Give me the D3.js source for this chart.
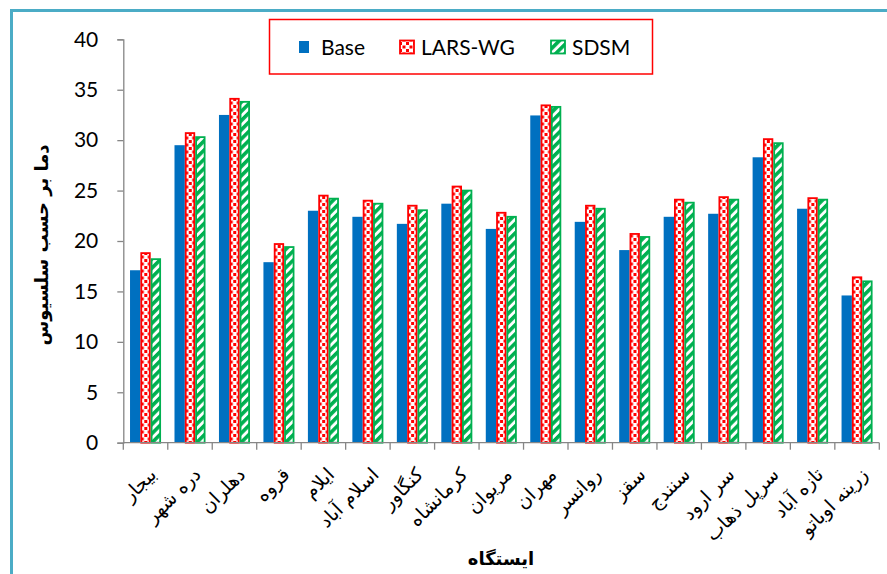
<!DOCTYPE html>
<html>
<head>
<meta charset="utf-8">
<script src="https://cdn.jsdelivr.net/npm/d3@7"></script>
<style>
  html, body { margin: 0; padding: 0; background: #ffffff; }
  svg { display: block; }
</style>
</head>
<body>
<svg id="chart" width="887" height="574"></svg>
<script>
// Stations (x categories)
const stations = ["بیجار", "دره شهر", "دهلران", "قروه", "ایلام", "اسلام آباد", "کنگاور", "کرمانشاه",
  "مریوان", "مهران", "روانسر", "سقز", "سنندج", "سر ارود", "سرپل ذهاب", "تازه آباد", "زرینه اوباتو"];

// Series names
const seriesNames = ["Base", "LARS-WG", "SDSM"];

// Temperature (°C) per station for each series
const baseValues  = [17.1, 29.5, 32.5, 17.9, 23.0, 22.4, 21.7, 23.7, 21.2, 32.45, 21.9, 19.1, 22.4, 22.7, 28.3, 23.2, 14.6];
const larsValues  = [18.8, 30.7, 34.1, 19.7, 24.5, 24.0, 23.5, 25.4, 22.8, 33.45, 23.5, 20.7, 24.1, 24.35, 30.1, 24.25, 16.4];
const sdsmValues  = [18.2, 30.3, 33.8, 19.4, 24.2, 23.7, 23.05, 25.0, 22.4, 33.3, 23.2, 20.4, 23.8, 24.1, 29.7, 24.1, 16.0];

// Y axis ticks
const yTicks = [0, 5, 10, 15, 20, 25, 30, 35, 40];

const yTitle = "دما بر حسب سلسیوس";
const xTitle = "ایستگاه";

const seriesValues = [baseValues, larsValues, sdsmValues];
const rows = stations.map((s, i) => ({ station: s, values: seriesNames.map((n, k) => ({ series: n, value: seriesValues[k][i] })) }));

const svg = d3.select("#chart");
const latin = "Lato, 'Open Sans', sans-serif";
const persian = "'DejaVu Sans', sans-serif";

// Patterns for the two model series
const defs = svg.append("defs");
const dots = defs.append("pattern").attr("id", "redDots")
  .attr("patternUnits", "userSpaceOnUse").attr("width", 7).attr("height", 7);
dots.append("rect").attr("width", 7).attr("height", 7).attr("fill", "#ffffff");
dots.append("rect").attr("x", 0).attr("y", 0).attr("width", 3).attr("height", 3).attr("fill", "#ff0000");
dots.append("rect").attr("x", 3.5).attr("y", 3.5).attr("width", 3).attr("height", 3).attr("fill", "#ff0000");

const stripes = defs.append("pattern").attr("id", "greenStripes")
  .attr("patternUnits", "userSpaceOnUse").attr("width", 6.5).attr("height", 6.5)
  .attr("patternTransform", "rotate(45)");
stripes.append("rect").attr("width", 6.5).attr("height", 6.5).attr("fill", "#ffffff");
stripes.append("rect").attr("x", 0).attr("y", 0).attr("width", 3.6).attr("height", 6.5).attr("fill", "#00b050");

const style = {
  "Base":    { fill: "#0070c0", stroke: "none", sw: 0 },
  "LARS-WG": { fill: "url(#redDots)", stroke: "#ff0000", sw: 1.8 },
  "SDSM":    { fill: "url(#greenStripes)", stroke: "#00b050", sw: 1.8 }
};

// Outer chart frame
svg.append("rect").attr("x", 11.5).attr("y", 10.5).attr("width", 900).attr("height", 600)
  .attr("fill", "none").attr("stroke", "#4bacc6").attr("stroke-width", 3);

// Scales
const x = d3.scaleBand().domain(stations).range([123.3, 879.3]).padding(0);
const x1 = d3.scaleBand().domain(seriesNames).range([0, x.bandwidth()]).paddingInner(0).paddingOuter(0.65);
const y = d3.scaleLinear().domain([0, 40]).range([442.7, 39.3]);

// Bars
const groups = svg.append("g").selectAll("g").data(rows).join("g")
  .attr("transform", d => `translate(${x(d.station)},0)`);
groups.selectAll("rect").data(d => d.values).join("rect")
  .attr("x", d => x1(d.series) + (style[d.series].sw / 2))
  .attr("width", d => x1.bandwidth() - style[d.series].sw)
  .attr("y", d => y(d.value))
  .attr("height", d => y(0) - y(d.value))
  .attr("fill", d => style[d.series].fill)
  .attr("stroke", d => style[d.series].stroke)
  .attr("stroke-width", d => style[d.series].sw);

// Y axis
const yAxis = svg.append("g").attr("transform", "translate(123.3,0)")
  .call(d3.axisLeft(y).tickValues(yTicks).tickSize(6).tickPadding(19).tickFormat(d3.format("d")));
yAxis.select(".domain").attr("stroke", "#868686").attr("stroke-width", 1.3);
yAxis.selectAll(".tick line").attr("stroke", "#868686").attr("stroke-width", 1.3);
yAxis.selectAll(".tick text").attr("font-family", latin).attr("font-size", 21).attr("fill", "#000");

// X axis (ticks at category boundaries)
const bounds = stations.map(s => x(s)).concat([x.range()[1]]);
const xAxisG = svg.append("g");
xAxisG.append("line").attr("x1", 123.3).attr("x2", 879.3).attr("y1", y(0)).attr("y2", y(0))
  .attr("stroke", "#868686").attr("stroke-width", 1.3);
xAxisG.selectAll("line.tk").data(bounds).join("line").attr("class", "tk")
  .attr("x1", d => d).attr("x2", d => d).attr("y1", y(0)).attr("y2", y(0) + 7)
  .attr("stroke", "#868686").attr("stroke-width", 1.3);

// Station labels, rotated
svg.append("g").selectAll("text").data(stations).join("text")
  .attr("transform", d => `translate(${x(d) + x.bandwidth() / 2 + 12},${y(0) + 33}) rotate(-45)`)
  .attr("text-anchor", "end")
  .attr("font-family", persian).attr("font-size", 19).attr("fill", "#000")
  .text(d => d);

// Axis titles
svg.append("text").attr("transform", "translate(48,245) rotate(-90)")
  .attr("text-anchor", "middle").attr("font-family", persian).attr("font-weight", "bold")
  .attr("font-size", 18).attr("fill", "#000").text(yTitle);
svg.append("text").attr("x", 501).attr("y", 565)
  .attr("text-anchor", "middle").attr("font-family", persian).attr("font-weight", "bold")
  .attr("font-size", 18).attr("fill", "#000").text(xTitle);

// Legend
const legend = svg.append("g");
legend.append("rect").attr("x", 269.5).attr("y", 19.5).attr("width", 383).attr("height", 54.5)
  .attr("fill", "#ffffff").attr("stroke", "#ff0000").attr("stroke-width", 1.5);
const legendPos = [
  { key: 299, text: 321 },
  { key: 400, text: 421 },
  { key: 551, text: 572 }
];
seriesNames.forEach((n, i) => {
  const p = legendPos[i];
  const st = style[n];
  if (n === "Base") {
    legend.append("rect").attr("x", p.key).attr("y", 41).attr("width", 10).attr("height", 12).attr("fill", st.fill);
  } else {
    legend.append("rect").attr("x", p.key).attr("y", 40.5).attr("width", 14).attr("height", 13)
      .attr("fill", st.fill).attr("stroke", st.stroke).attr("stroke-width", st.sw);
  }
  legend.append("text").attr("x", p.text).attr("y", 54.5)
    .attr("font-family", latin).attr("font-size", 21).attr("fill", "#000").text(n);
});
</script>
</body>
</html>
